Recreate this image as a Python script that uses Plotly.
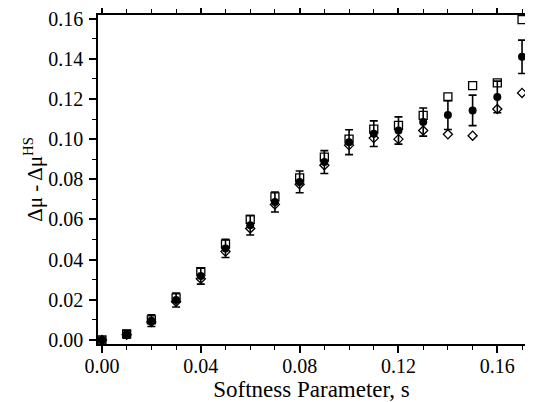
import plotly.graph_objects as go

s_values = [0.00, 0.01, 0.02, 0.03, 0.04, 0.05, 0.06, 0.07, 0.08, 0.09,
            0.10, 0.11, 0.12, 0.13, 0.14, 0.15, 0.16, 0.17]
circle_values = [0.000, 0.0028, 0.0096, 0.0199, 0.0318, 0.0456, 0.0571, 0.0687, 0.0787,
                 0.0886, 0.0985, 0.1027, 0.1043, 0.1085, 0.1120, 0.1143, 0.1210, 0.1410]
circle_errors = [0.0008, 0.0019, 0.0029, 0.0035, 0.0040, 0.0045, 0.0048, 0.0050, 0.0054,
                 0.0057, 0.0062, 0.0064, 0.0068, 0.0070, 0.0072, 0.0076, 0.0079, 0.0083]
square_values = [0.000, 0.0030, 0.0100, 0.0210, 0.0340, 0.0477, 0.0600, 0.0712, 0.0807,
                 0.0910, 0.1000, 0.1050, 0.1068, 0.1118, 0.1210, 0.1266, 0.1280, 0.1595]
diamond_values = [0.000, 0.0026, 0.0090, 0.0190, 0.0305, 0.0440, 0.0555, 0.0675, 0.0775,
                  0.0870, 0.0970, 0.1005, 0.1000, 0.1043, 0.1024, 0.1017, 0.1150, 0.1230]

FONT = "Liberation Serif, Times New Roman, serif"

fig = go.Figure()
fig.add_trace(go.Scatter(
    x=s_values, y=square_values, mode="markers",
    marker=dict(symbol="square-open", size=8, color="black", line=dict(width=1.3, color="black")),
    showlegend=False))
fig.add_trace(go.Scatter(
    x=s_values, y=diamond_values, mode="markers",
    marker=dict(symbol="diamond-open", size=7, color="black", line=dict(width=1.3, color="black")),
    showlegend=False))
fig.add_trace(go.Scatter(
    x=s_values, y=circle_values, mode="markers",
    marker=dict(symbol="circle", size=8, color="black"),
    error_y=dict(type="data", array=circle_errors, visible=True, color="black",
                 thickness=1.6, width=4),
    showlegend=False))

axis_common = dict(
    showline=True, linecolor="black", linewidth=1.6, mirror="ticks",
    ticks="outside", ticklen=7, tickwidth=1.5, tickcolor="black",
    showgrid=False, zeroline=False, automargin=False,
    ticklabeloverflow="allow",
    tickfont=dict(family=FONT, size=20, color="black"),
)

fig.update_xaxes(
    range=[-0.0016, 0.1712], tick0=0, dtick=0.04, tickformat=".2f",
    ticklabelstandoff=-4,
    minor=dict(dtick=0.01, ticks="outside", ticklen=4, tickwidth=1.3, tickcolor="black", showgrid=False),
    title=dict(text="Softness Parameter, s", font=dict(family=FONT, size=23, color="black"), standoff=0),
    **axis_common)
fig.update_yaxes(
    range=[-0.002, 0.1618], tick0=0, dtick=0.02, tickformat=".2f",
    ticklabelstandoff=2,
    minor=dict(dtick=0.01, ticks="outside", ticklen=4, tickwidth=1.3, tickcolor="black", showgrid=False),
    title=dict(text="Δμ - Δμ<sup>HS</sup>", font=dict(family=FONT, size=21, color="black"), standoff=0),
    **axis_common)

# the page body has an 8px default margin, so the figure is sized/offset to compensate
fig.update_layout(
    width=525, height=394,
    margin=dict(l=90, r=8, t=7, b=58),
    paper_bgcolor="white", plot_bgcolor="white",
    font=dict(family=FONT, color="black", size=20),
)

fig.write_html("out.html")
